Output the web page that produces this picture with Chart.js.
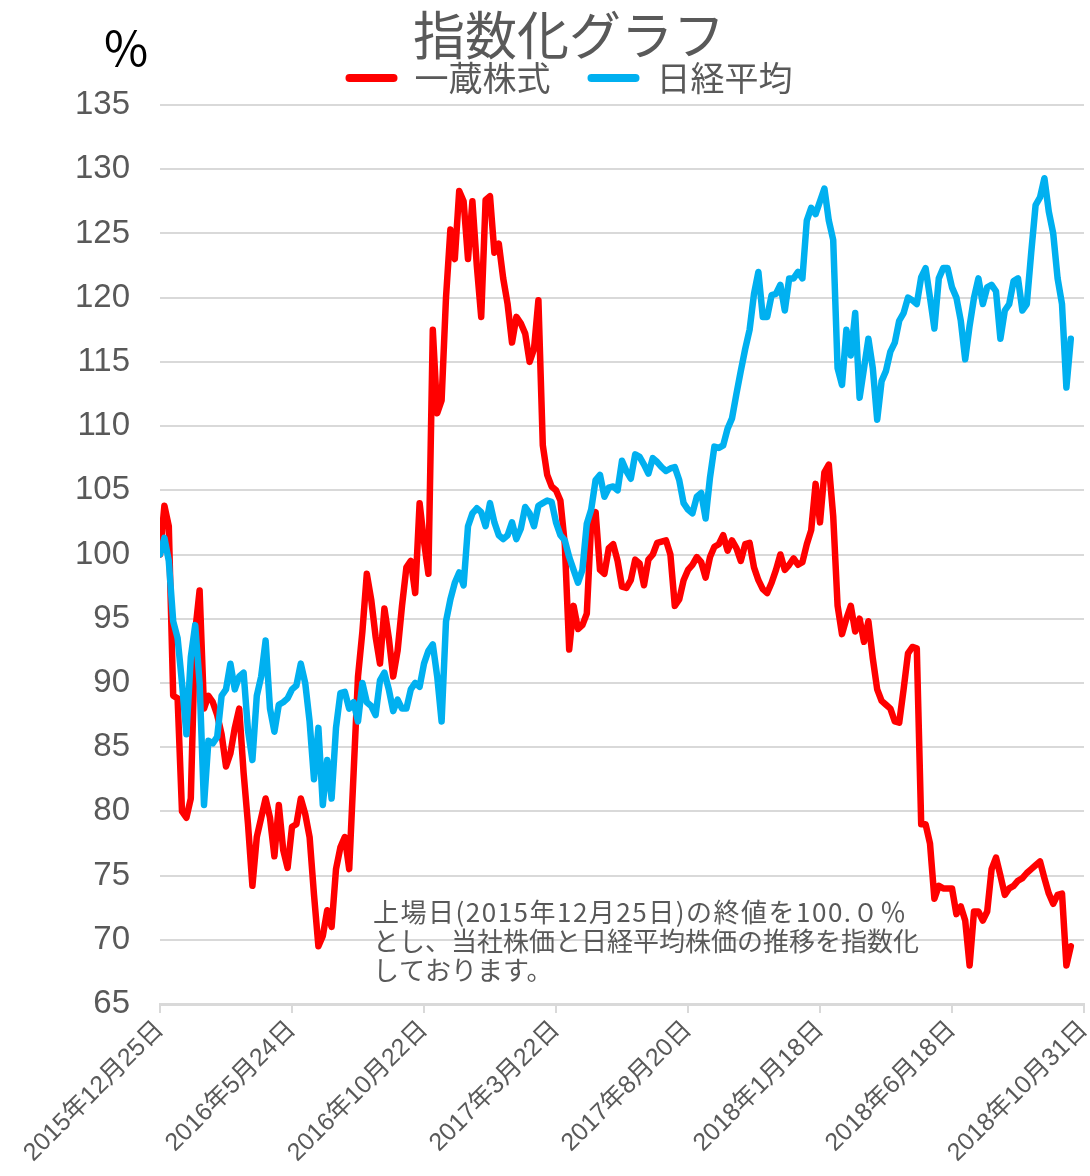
<!DOCTYPE html>
<html lang="ja">
<head>
<meta charset="utf-8">
<title>指数化グラフ</title>
<script src="https://cdn.jsdelivr.net/npm/chart.js@4.4.1/dist/chart.umd.min.js"></script>
<style>
  html, body { margin: 0; padding: 0; background: #fff; }
  #wrap { width: 1090px; height: 1176px; position: relative; }
</style>
</head>
<body>
<div id="wrap"><canvas id="myChart"></canvas></div>
<script>
// one value every ~4.4 px of the original plot (30 samples per date label)
const xTickLabels = ['2015年12月25日', '2016年5月24日', '2016年10月22日', '2017年3月22日',
                     '2017年8月20日', '2018年1月18日', '2018年6月18日', '2018年10月31日'];
const seriesNames = ['一蔵株式', '日経平均'];

const ichikura = [
  100, 103.8, 102.2, 89, 88.8, 80, 79.5, 81, 94, 97.2,
  88, 89, 88.5, 87.5, 86, 83.5, 84.5, 86.5, 88, 83,
  79, 74.2, 78, 79.5, 81, 79.5, 76.5, 80.5, 77, 75.6,
  78.8, 79, 81, 79.8, 78, 73.5, 69.5, 70.3, 72.3, 71,
  75.5, 77.2, 78, 75.5, 83, 90.5, 94, 98.5, 96.5, 93.6,
  91.5, 95.8, 93.5, 90.5, 92.5, 96, 99, 99.5, 97, 104,
  101, 98.5, 117.5, 111, 112, 120, 125.3, 123, 128.3, 127.5,
  123, 127.5, 122.5, 118.5, 127.6, 127.9, 123.5, 124.2, 121.5, 119.5,
  116.5, 118.5, 118, 117.2, 115, 116, 119.8, 108.5, 106.2, 105.3,
  105, 104.2, 100.8, 92.6, 96, 94.2, 94.5, 95.4, 102.5, 103.3,
  98.8, 98.5, 100.5, 100.8, 99.5, 97.5, 97.4, 98, 99.6, 99.3,
  97.6, 99.6, 100, 100.9, 101, 101.1, 100, 96, 96.5, 98,
  98.8, 99.2, 99.8, 99.4, 98.2, 99.8, 100.6, 100.8, 101.5, 100.3,
  101.1, 100.5, 99.5, 100.8, 100.9, 99, 98, 97.3, 97, 97.8,
  98.8, 100, 98.8, 99.2, 99.7, 99.2, 99.4, 100.8, 101.9, 105.5,
  102.5, 106.4, 107, 103, 96, 93.8, 95, 96, 94, 95,
  93.2, 94.8, 91.9, 89.5, 88.6, 88.3, 88, 87, 86.9, 89.5,
  92.3, 92.8, 92.7, 79, 79, 77.5, 73.2, 74.2, 74, 74,
  74, 72, 72.6, 71.5, 68, 72.2, 72.2, 71.5, 72.2, 75.5,
  76.4, 75, 73.5, 74, 74.2, 74.6, 74.8, 75.2, 75.5, 75.8,
  76.1, 74.8, 73.6, 72.8, 73.5, 73.6, 68, 69.5
];

const nikkei = [
  100, 101.3, 99.5, 94.8, 93.5, 90, 86, 92, 94.5, 90,
  80.5, 85.5, 85.3, 85.8, 89, 89.5, 91.5, 89.5, 90.5, 90.8,
  86.3, 84, 89, 90.5, 93.3, 88, 86.2, 88.3, 88.5, 88.8,
  89.5, 89.8, 91.5, 90, 87, 82.5, 86.5, 80.5, 84, 81,
  86.5, 89.2, 89.3, 88, 88.5, 87, 90, 88.5, 88.2, 87.5,
  90.2, 90.8, 89.5, 87.8, 88.7, 88, 88, 89.5, 90, 89.7,
  91.5, 92.5, 93, 90.5, 87, 94.8, 96.5, 97.8, 98.6, 97.6,
  102.2, 103.2, 103.6, 103.3, 102.2, 104, 102.5, 101.5, 101.2, 101.5,
  102.5, 101.2, 102, 103.7, 103.2, 102.2, 103.8, 104, 104.2, 104.1,
  102.5, 101.5, 101.1, 99.8, 98.8, 97.8, 98.8, 102.4, 103.5, 105.8,
  106.2, 104.5, 105.2, 105.3, 105, 107.3, 106.5, 105.9, 107.8, 107.6,
  107, 106.3, 107.5, 107.2, 106.8, 106.5, 106.7, 106.8, 105.8, 104,
  103.5, 103.2, 104.5, 104.8, 102.8, 106, 108.4, 108.3, 108.5, 109.8,
  110.6, 112.5, 114.3, 116, 117.5, 120.3, 122, 118.5, 118.5, 120.2,
  120.3, 121, 119, 121.5, 121.5, 122, 121.5, 126, 127, 126.5,
  127.5, 128.5, 126, 124.5, 114.5, 113.2, 117.5, 115.5, 118.8, 112.2,
  114.5, 116.8, 114.5, 110.5, 113.5, 114.3, 115.8, 116.5, 118.2, 118.8,
  120, 119.8, 119.5, 121.6, 122.3, 120, 117.6, 121.5, 122.3, 122.3,
  120.8, 120, 118.2, 115.2, 117.8, 120, 121.5, 119.5, 120.8, 121,
  120.5, 116.8, 119, 119.5, 121.3, 121.5, 119, 119.5, 123.5, 127.2,
  127.8, 129.3, 126.7, 125, 121.5, 119.5, 113, 116.8
];

const noteLines = [
  '上場日(2015年12月25日)の終値を100.０％',
  'とし、当社株価と日経平均株価の推移を指数化',
  'しております。'
];

const STEP = 30;   // samples between two date labels
const GREY = '#595959';
const GRID = '#d9d9d9';
const jp = '"Noto Sans CJK JP", "Noto Sans", sans-serif';
const latin = '"Liberation Sans", "Noto Sans CJK JP", sans-serif';

const toPoints = arr => arr.map((v, i) => ({ x: i, y: v }));

// "%" unit and the footnote inside the plot
const notePlugin = {
  id: 'notes',
  afterDraw(chart) {
    const ctx = chart.ctx;
    ctx.save();
    ctx.fillStyle = '#000';
    ctx.font = '48px ' + jp;
    ctx.textAlign = 'center';
    ctx.textBaseline = 'middle';
    ctx.fillText('%', 126, 48);

    ctx.fillStyle = GREY;
    ctx.font = '26px ' + jp;
    ctx.textAlign = 'left';
    noteLines.forEach((t, k) => {
      ctx.letterSpacing = k === 0 ? '1.5px' : '0px';
      ctx.fillText(t, 373, 912 + k * 29);
    });
    ctx.restore();
  }
};

var ctx = document.getElementById('myChart').getContext('2d');
const chart = new Chart(ctx, {
  type: 'line',
  data: {
    datasets: [
      {
        label: seriesNames[0],
        data: toPoints(ichikura),
        borderColor: '#ff0000',
        backgroundColor: '#ff0000',
        borderWidth: 6.5,
        pointRadius: 0,
        borderJoinStyle: 'round',
        borderCapStyle: 'round',
        order: 1
      },
      {
        label: seriesNames[1],
        data: toPoints(nikkei),
        borderColor: '#00b0f0',
        backgroundColor: '#00b0f0',
        borderWidth: 6.5,
        pointRadius: 0,
        borderJoinStyle: 'round',
        borderCapStyle: 'round',
        order: 0
      }
    ]
  },
  options: {
    responsive: true,
    maintainAspectRatio: false,
    animation: false,
    devicePixelRatio: 1,
    layout: { padding: { left: 54, right: 6, top: 0, bottom: 0 } },
    plugins: {
      tooltip: { enabled: false },
      title: {
        display: true,
        text: '指数化グラフ',
        color: GREY,
        font: { family: jp, size: 52, weight: 'normal', lineHeight: 1 },
        padding: { top: 9, bottom: -37 }
      },
      legend: {
        position: 'top',
        labels: {
          boxWidth: 52,
          boxHeight: 8,
          padding: 37,
          color: GREY,
          font: { family: jp, size: 34 },
          generateLabels: ch => ch.data.datasets.map((ds, i) => ({
            text: ds.label,
            fillStyle: ds.borderColor,
            strokeStyle: ds.borderColor,
            lineWidth: 0,
            borderRadius: 4,
            fontColor: GREY,
            hidden: false,
            datasetIndex: i
          }))
        }
      }
    },
    scales: {
      x: {
        type: 'linear',
        min: 0,
        max: STEP * (xTickLabels.length - 1),
        grid: { drawOnChartArea: false, drawTicks: true, tickLength: 9, color: GRID, lineWidth: 2 },
        border: { display: true, color: GRID, width: 3 },
        ticks: {
          stepSize: STEP,
          autoSkip: false,
          minRotation: 45,
          maxRotation: 45,
          padding: 2,
          color: GREY,
          font: { family: latin, size: 25 },
          callback: v => xTickLabels[Math.round(v / STEP)]
        },
        afterFit: s => { s.height = 172; s.paddingLeft = 0; s.paddingRight = 0; }
      },
      y: {
        min: 65,
        max: 135,
        grid: { color: GRID, lineWidth: 2, drawTicks: false },
        border: { display: false },
        ticks: {
          stepSize: 5,
          padding: 30,
          color: GREY,
          font: { family: latin, size: 33 }
        },
        afterFit: s => { s.width = 106; s.paddingTop = 0; s.paddingBottom = 0; }
      }
    }
  },
  plugins: [notePlugin]
});
</script>
</body>
</html>
